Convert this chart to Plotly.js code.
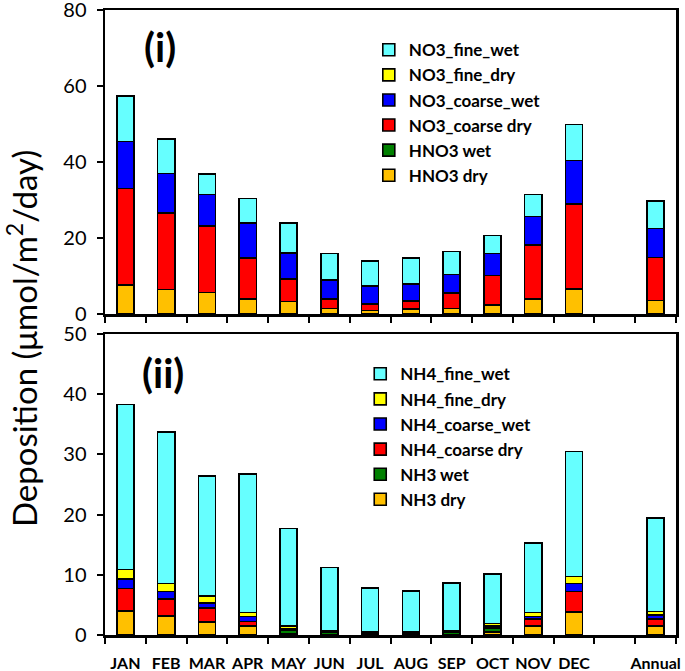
<!DOCTYPE html>
<html>
<head>
<meta charset="utf-8">
<script src="https://cdn.plot.ly/plotly-3.0.1.min.js"></script>
<style>html,body{margin:0;padding:0;background:#fff;}</style>
</head>
<body>
<div id="chart" style="width:685px;height:671px;"></div>
<script>
const categories = ['JAN','FEB','MAR','APR','MAY','JUN','JUL','AUG','SEP','OCT','NOV','DEC',' ','Annual'];

// Panel (i): nitrate species
const HNO3_dry        = [7.7, 6.4, 5.7, 4.0, 3.3, 1.4, 0.9, 1.3, 1.4, 2.3, 4.0, 6.6, null, 3.6];
const HNO3_wet        = [0, 0, 0, 0, 0, 0, 0, 0, 0, 0, 0, 0, null, 0];
const NO3_coarse_dry  = [25.3, 20.2, 17.4, 10.7, 5.9, 2.5, 1.8, 2.1, 4.1, 7.8, 14.1, 22.4, null, 11.3];
const NO3_coarse_wet  = [12.4, 10.4, 8.3, 9.2, 6.9, 5.1, 4.7, 4.5, 4.9, 5.8, 7.6, 11.4, null, 7.6];
const NO3_fine_dry    = [0, 0, 0, 0, 0, 0, 0, 0, 0, 0, 0, 0, null, 0];
const NO3_fine_wet    = [12.0, 9.1, 5.5, 6.5, 7.9, 6.9, 6.6, 6.8, 6.1, 4.8, 5.7, 9.5, null, 7.3];

// Panel (ii): ammonium species
const NH3_dry         = [4.0, 3.2, 2.2, 1.4, 0.2, 0.1, 0.1, 0.1, 0.1, 0.5, 1.4, 3.8, null, 1.4];
const NH3_wet         = [0.05, 0.05, 0.05, 0.05, 0.6, 0.3, 0.25, 0.25, 0.3, 0.7, 0.05, 0.05, null, 0.1];
const NH4_coarse_dry  = [3.7, 2.7, 2.2, 0.8, 0.2, 0.1, 0.1, 0.1, 0.1, 0.3, 1.25, 3.4, null, 1.2];
const NH4_coarse_wet  = [1.55, 1.3, 0.9, 0.8, 0.1, 0.05, 0.05, 0.05, 0.05, 0.1, 0.35, 1.3, null, 0.6];
const NH4_fine_dry    = [1.55, 1.3, 1.1, 0.7, 0.4, 0.15, 0.1, 0.1, 0.15, 0.3, 0.7, 1.2, null, 0.6];
const NH4_fine_wet    = [27.45, 25.15, 19.95, 22.95, 16.2, 10.5, 7.2, 6.7, 7.9, 8.2, 11.55, 20.75, null, 15.5];

const COLORS = {orange:'#FFC000', green:'#008000', red:'#FF0000', blue:'#0000FF', yellow:'#FFFF00', cyan:'#66FFFF'};
const FONT = 'Lato, "Open Sans", sans-serif';

function bar(name, y, color, panel) {
  return {
    type: 'bar', name: name, x: categories, y: y,
    xaxis: panel === 1 ? 'x' : 'x2',
    yaxis: panel === 1 ? 'y' : 'y2',
    legend: panel === 1 ? 'legend' : 'legend2',
    width: 0.42,
    marker: {color: color, line: {color: '#000', width: 1.6}},
    hoverinfo: 'name+y'
  };
}

const data = [
  bar('HNO3 dry', HNO3_dry, COLORS.orange, 1),
  bar('HNO3 wet', HNO3_wet, COLORS.green, 1),
  bar('NO3_coarse dry', NO3_coarse_dry, COLORS.red, 1),
  bar('NO3_coarse_wet', NO3_coarse_wet, COLORS.blue, 1),
  bar('NO3_fine_dry', NO3_fine_dry, COLORS.yellow, 1),
  bar('NO3_fine_wet', NO3_fine_wet, COLORS.cyan, 1),
  bar('NH3 dry', NH3_dry, COLORS.orange, 2),
  bar('NH3 wet', NH3_wet, COLORS.green, 2),
  bar('NH4_coarse dry', NH4_coarse_dry, COLORS.red, 2),
  bar('NH4_coarse_wet', NH4_coarse_wet, COLORS.blue, 2),
  bar('NH4_fine_dry', NH4_fine_dry, COLORS.yellow, 2),
  bar('NH4_fine_wet', NH4_fine_wet, COLORS.cyan, 2)
];

const xBase = {
  type: 'category', categoryorder: 'array', categoryarray: categories,
  range: [-0.5, 13.5], ticks: 'outside', tickson: 'boundaries',
  ticklen: 6, tickwidth: 2, tickcolor: '#000', tickangle: 0,
  showline: true, linewidth: 2.5, linecolor: '#000', mirror: true,
  showgrid: false, zeroline: false
};
const yBase = {
  ticks: 'outside', ticklen: 6, tickwidth: 2, tickcolor: '#000',
  showline: true, linewidth: 2.5, linecolor: '#000', mirror: true,
  showgrid: false, zeroline: false, ticklabelstandoff: 6, ticklabeloverflow: 'allow',
  tickfont: {family: FONT, size: 20, color: '#000'}
};

const legendBase = {
  traceorder: 'reversed', bgcolor: 'rgba(0,0,0,0)', borderwidth: 0,
  font: {family: FONT, size: 17, color: '#000', weight: 'bold'},
  xanchor: 'left', yanchor: 'top', itemclick: false
};

const layout = {
  width: 685, height: 671,
  margin: {l: 105, r: 9, t: 10, b: 36},
  paper_bgcolor: '#fff', plot_bgcolor: '#fff',
  barmode: 'stack',
  showlegend: true,
  xaxis: Object.assign({}, xBase, {anchor: 'y', showticklabels: false}),
  yaxis: Object.assign({}, yBase, {anchor: 'x', domain: [0.5136, 1], range: [0, 80], dtick: 20}),
  xaxis2: Object.assign({}, xBase, {anchor: 'y2', showticklabels: true, ticklabelstandoff: 12,
    tickfont: {family: FONT, size: 16, color: '#000', weight: 'bold'}}),
  yaxis2: Object.assign({}, yBase, {anchor: 'x2', domain: [0, 0.4816], range: [0, 50], dtick: 10}),
  legend: Object.assign({}, legendBase, {x: 0.462, y: 0.9645}),
  legend2: Object.assign({}, legendBase, {x: 0.447, y: 0.446}),
  annotations: [
    {text: '(i)', xref: 'paper', yref: 'paper', x: 0.0963, y: 0.9408, showarrow: false,
     xanchor: 'center', yanchor: 'middle',
     font: {family: FONT, size: 40, color: '#000', weight: 'bold'}},
    {text: '(ii)', xref: 'paper', yref: 'paper', x: 0.1016, y: 0.4192, showarrow: false,
     xanchor: 'center', yanchor: 'middle',
     font: {family: FONT, size: 40, color: '#000', weight: 'bold'}},
    {text: 'Deposition (μmol/m<sup>2</sup>/day)', xref: 'paper', yref: 'paper',
     x: -0.1454, y: 0.475, textangle: -90, showarrow: false,
     xanchor: 'center', yanchor: 'middle',
     font: {family: FONT, size: 33, color: '#000'}}
  ]
};

Plotly.newPlot('chart', data, layout, {displayModeBar: false, staticPlot: true});
</script>
</body>
</html>
